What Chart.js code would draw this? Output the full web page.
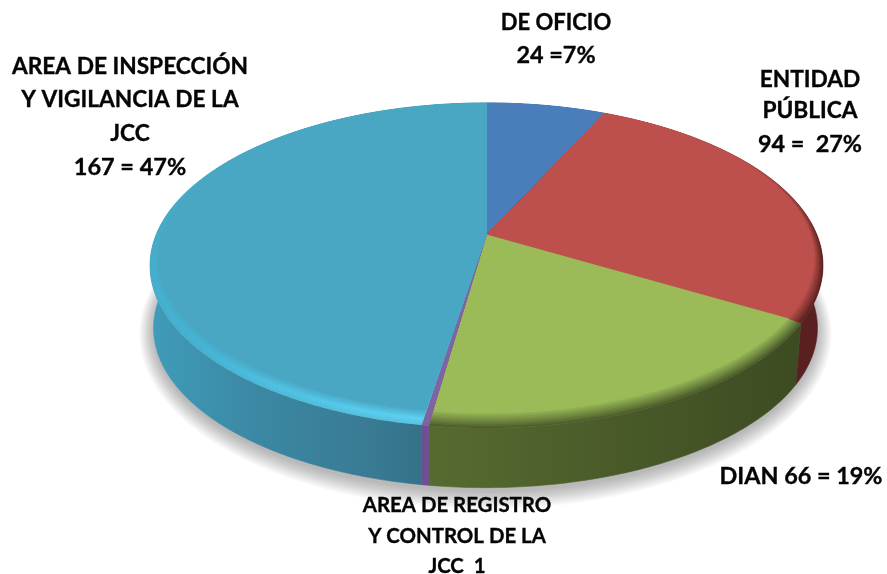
<!DOCTYPE html>
<html><head><meta charset="utf-8">
<script src="https://cdn.jsdelivr.net/npm/chart.js@4"></script>
<style>html,body{margin:0;padding:0;background:#fff}canvas{display:block}</style>
</head><body><canvas id="c" width="887" height="574"></canvas>
<script>
const categories = ["DE OFICIO","ENTIDAD PÚBLICA","DIAN","AREA DE REGISTRO Y CONTROL DE LA JCC","AREA DE INSPECCIÓN Y VIGILANCIA DE LA JCC"];
const values = [24,94,66,1,167];
const topColors = ["#4a7ebb","#bd504c","#9bbb59","#8064a2","#49a7c3"];
const labelLines = [["DE OFICIO","24 =7%"],["ENTIDAD","PÚBLICA","94 =  27%"],["DIAN 66 = 19%"],["AREA DE REGISTRO","Y CONTROL DE LA","JCC  1"],["AREA DE INSPECCIÓN","Y VIGILANCIA DE LA","JCC","167 = 47%"]];

const style = {
  family: 'Lato, Carlito, sans-serif',
  labelAt: [[556,[23,55]],[810,[80,111,144]],[801,[476]],[457,[505,536,566]],[130,[67,100,134,167]]],
  labelSize: [[22,23.4],[22.7,22.7,23.4],[23.4],[20.4,20.4,20.4],[22.7,22.7,22.7,23.5]],
  outer:{cx:486.5,cy:235,R:330.5,k:0.188,S:156.8},
  flat:{cx:486.5,cy:235,R:324,k:0.148,S:151.6},
  base:{cx:485.5,cy:298,R:326,k:0.188,S:154},
  wall:[["#2f5d8f","#2f5d8f"],["#5e2122","#5a1f20"],["#566b30","#3d4b22"],["#6e4f93","#6e4f93"],["#3f9cba","#3b87a2","#397a93","#2d677c"]],
  rim:[null,"#5e2220","#4d5f2b","#8064a2",null]
};

function pt(d,a){const u=Math.cos(a),v=Math.sin(a),w=1-d.k*v;return [d.cx+d.R*u/w,d.cy+d.S*v/w];}
function arcPts(d,a0,a1){const n=Math.max(2,Math.ceil(Math.abs(a1-a0)/0.012));const r=[];for(let i=0;i<=n;i++)r.push(pt(d,a0+(a1-a0)*i/n));return r;}
function trace(ctx,p){ctx.beginPath();p.forEach((q,i)=>i?ctx.lineTo(q[0],q[1]):ctx.moveTo(q[0],q[1]));ctx.closePath();}
function mix(d0,d1,t){const o={};for(const k in d0)o[k]=d0[k]+(d1[k]-d0[k])*t;return o;}
function hex(c){return [1,3,5].map(i=>parseInt(c.slice(i,i+2),16));}
function mixC(a,b,t){const x=hex(a),y=hex(b);return 'rgb('+x.map((v,i)=>Math.round(v+(y[i]-v)*t)).join(',')+')';}

const tilted = {
  id:'tilted',
  beforeDatasetsDraw(chart){
    const ctx=chart.ctx, arcs=chart.getDatasetMeta(0).data;
    // cast shadow: stacked soft layers under the base
    ctx.save();
    ctx.fillStyle='rgba(0,0,0,0.022)';
    for(let e=0;e<=14;e++){
      const b=style.base, d={cx:b.cx,cy:b.cy+3,R:b.R+14-e,k:b.k,S:b.S+15-e};
      trace(ctx,arcPts(d,0,Math.PI*2));ctx.fill();
    }
    ctx.restore();
    // side walls
    arcs.forEach((arc,i)=>{
      const top=arcPts(style.outer,arc.startAngle,arc.endAngle), bot=arcPts(style.base,arc.startAngle,arc.endAngle).reverse();
      const all=top.concat(bot), xs=all.map(p=>p[0]);
      const g=ctx.createLinearGradient(Math.min(...xs),0,Math.max(...xs),0);
      style.wall[i].forEach((c,j,l)=>g.addColorStop(j/(l.length-1),c));
      ctx.fillStyle=g;trace(ctx,all);ctx.fill();ctx.strokeStyle=g;ctx.lineWidth=.6;ctx.stroke();
    });
    // rim and top face
    const steps=8;
    arcs.forEach((arc,i)=>{
      const col=topColors[i];
      for(let s=0;s<=steps;s++){
        const t=s/steps, d=mix(style.outer,style.flat,t);
        const p=[[d.cx,d.cy]].concat(arcPts(d,arc.startAngle,arc.endAngle));
        let fill=col;
        if(s<steps){
          if(i===4){
            const w=t<0.35?0.6+0.4*t/0.35:1-(t-0.35)/0.65;
            const g=ctx.createLinearGradient(0,235,0,425);
            g.addColorStop(0,mixC(col,"#46acca",w));
            g.addColorStop(0.6,mixC(col,"#45b4d6",w));
            g.addColorStop(0.85,mixC(col,"#52c6e8",w));
            g.addColorStop(1,mixC(col,"#62d4f6",w));
            fill=g;
          } else if(style.rim[i]){
            const g=ctx.createLinearGradient(0,135,0,245);
            g.addColorStop(0,col);
            g.addColorStop(1,mixC(style.rim[i],col,Math.pow(t,0.9)));
            fill=g;
          }
        }
        ctx.fillStyle=fill;trace(ctx,p);ctx.fill();
        if(s===steps){ctx.strokeStyle=col;ctx.lineWidth=.8;ctx.stroke();}
      }
    });
    return false;
  },
  afterDraw(chart){
    const ctx=chart.ctx;
    ctx.save();ctx.fillStyle='#050505';ctx.strokeStyle='#050505';ctx.lineWidth=.35;ctx.textAlign='center';ctx.textBaseline='middle';
    labelLines.forEach((lines,i)=>{const [x,ys]=style.labelAt[i];lines.forEach((t,j)=>{
      ctx.font='700 '+style.labelSize[i][j]+'px '+style.family;
      ctx.fillText(t,x,ys[j]);ctx.strokeText(t,x,ys[j]);});});
    ctx.restore();
  }
};

new Chart(document.getElementById('c'),{
  type:'pie',
  data:{labels:categories,datasets:[{data:values,backgroundColor:topColors,borderWidth:0}]},
  options:{responsive:false,animation:false,rotation:0,plugins:{legend:{display:false},tooltip:{enabled:false}}},
  plugins:[tilted]
});
</script></body></html>
